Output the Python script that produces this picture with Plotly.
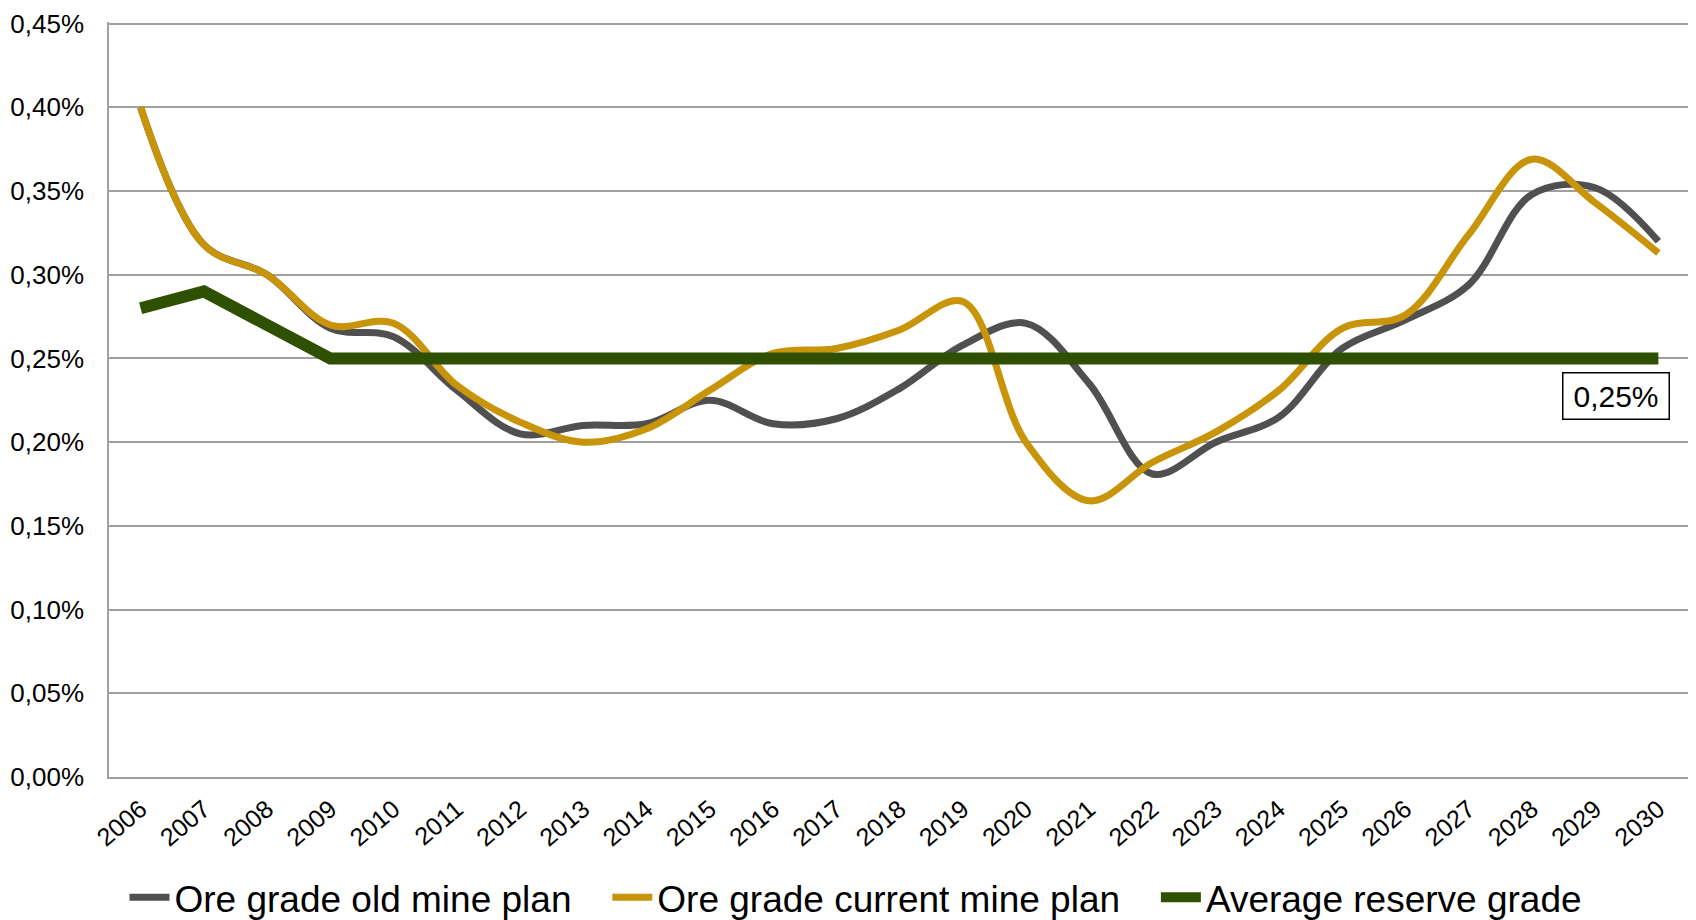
import plotly.graph_objects as go

years = [str(y) for y in range(2006, 2031)]

# ore grade in percent
old_plan = [0.400, 0.318, 0.300, 0.268, 0.263, 0.231, 0.205, 0.210, 0.211, 0.225,
            0.211, 0.214, 0.232, 0.258, 0.271, 0.235, 0.181, 0.200, 0.215, 0.256,
            0.273, 0.294, 0.348, 0.352, 0.320]
current_plan = [0.400, 0.318, 0.300, 0.270, 0.271, 0.234, 0.212, 0.200, 0.208, 0.231,
                0.253, 0.256, 0.267, 0.284, 0.200, 0.165, 0.188, 0.206, 0.231, 0.268,
                0.276, 0.324, 0.369, 0.343, 0.313]
reserve_grade = [0.280, 0.290, 0.270, 0.250, 0.250, 0.250, 0.250, 0.250, 0.250, 0.250,
                 0.250, 0.250, 0.250, 0.250, 0.250, 0.250, 0.250, 0.250, 0.250, 0.250,
                 0.250, 0.250, 0.250, 0.250, 0.250]

# convert to fractions for the % tick format
old_plan = [v / 100 for v in old_plan]
current_plan = [v / 100 for v in current_plan]
reserve_grade = [v / 100 for v in reserve_grade]

pad = '\u00a0\u00a0\u00a0'  # a little room between legend entries

fig = go.Figure()
fig.add_trace(go.Scatter(x=years, y=old_plan, name='Ore grade old mine plan' + pad, mode='lines',
                         line=dict(color='#505050', width=7, shape='spline', smoothing=1)))
fig.add_trace(go.Scatter(x=years, y=current_plan, name='Ore grade current mine plan' + pad, mode='lines',
                         line=dict(color='#C8940A', width=7, shape='spline', smoothing=1)))
fig.add_trace(go.Scatter(x=years, y=reserve_grade, name='Average reserve grade', mode='lines',
                         line=dict(color='#2F5000', width=12)))

# data label on the last reserve grade point
fig.add_annotation(x=len(years) - 1, y=reserve_grade[-1], xref='x', yref='y',
                   text='0,25%', showarrow=False,
                   xshift=-42, yshift=-38, font=dict(size=30, color='black'),
                   width=95, height=35, borderpad=5,
                   bordercolor='black', borderwidth=1.5, bgcolor='white')

grid = '#a0a0a0'
fig.update_layout(
    width=1696, height=920,
    margin=dict(l=101, r=14, t=14, b=151, autoexpand=False),
    paper_bgcolor='white', plot_bgcolor='white',
    font=dict(family='Liberation Sans, Arial', color='black'),
    separators=', ',
    showlegend=True,
    legend=dict(orientation='h', x=0.5, xanchor='center', xref='container',
                y=0.033, yanchor='middle', yref='container',
                font=dict(size=37), itemwidth=40, traceorder='normal'),
    xaxis=dict(type='category', range=[-0.5, 24.5], showgrid=False, showline=True,
               linecolor=grid, linewidth=1.5, tickangle=-40, tickfont=dict(size=25),
               ticks='', ticklabelstandoff=6, automargin=False),
    yaxis=dict(range=[0, 0.00451], tickvals=[i * 0.0005 for i in range(10)],
               tickformat='.2%', showgrid=True,
               gridcolor=grid, gridwidth=1.5, zeroline=False, showline=True,
               linecolor=grid, linewidth=1.5, tickfont=dict(size=26),
               ticklabelstandoff=18, ticklabeloverflow='allow', automargin=False),
)

fig.write_html('out.html')
